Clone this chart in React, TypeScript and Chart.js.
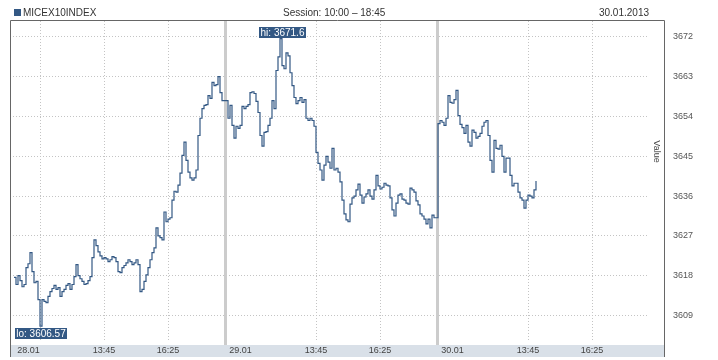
import React, { useEffect, useRef } from "react";
import { Chart, registerables } from "chart.js";

Chart.register(...registerables);

// ---------- texts ----------
const TITLE = "MICEX10INDEX";
const SESSION = "Session: 10:00 – 18:45";
const DATE_TEXT = "30.01.2013";
const Y_TITLE = "Value";

// ---------- data (5-minute closes, session 10:00 – 18:45) ----------
const STEP_MIN = 5;
const DAY_LEN = 530; // axis minutes reserved per trading day

const DAY1 = [
  3617.6, 3616.0, 3618.0, 3616.9, 3615.5, 3616.0, 3619.8, 3620.7, 3623.2, 3618.9,
  3616.4, 3616.7, 3612.6, 3606.57, 3612.6, 3612.2, 3611.9, 3613.3, 3614.4, 3615.1,
  3615.8, 3614.9, 3615.3, 3613.3, 3614.4, 3614.9, 3615.8, 3616.2, 3614.9, 3616.0,
  3617.8, 3620.5, 3618.0, 3617.3, 3616.7, 3616.0, 3616.2, 3616.9, 3617.8, 3622.1,
  3626.1, 3624.8, 3623.4, 3622.5, 3621.8, 3622.1, 3621.8, 3621.2, 3621.6, 3622.3,
  3622.1, 3621.2, 3618.9, 3618.7, 3619.8, 3620.3, 3620.9, 3621.6, 3621.2, 3620.5,
  3620.9, 3621.6, 3620.5, 3614.4, 3614.9, 3616.7, 3618.2, 3619.8, 3621.6, 3623.2,
  3624.3, 3628.8, 3627.0, 3626.6, 3626.1, 3632.4, 3630.2, 3630.8, 3631.1, 3635.1,
  3637.1, 3636.9, 3638.5, 3641.2, 3645.2, 3648.2, 3644.1, 3641.4, 3640.1, 3639.6,
  3640.1, 3641.9, 3649.7, 3653.6, 3655.8, 3656.5, 3656.7, 3658.7, 3658.1, 3661.7,
  3661.0, 3661.2, 3663.0, 3659.4, 3657.6,
];

const DAY2 = [
  3657.6, 3653.6, 3656.5, 3652.0, 3649.1, 3651.8, 3651.3, 3652.0, 3656.3, 3655.8,
  3656.3, 3656.7, 3659.4, 3659.6, 3659.2, 3657.4, 3654.9, 3649.7, 3647.3, 3650.4,
  3650.6, 3652.0, 3653.6, 3657.6, 3655.8, 3664.4, 3667.5, 3671.6, 3665.5, 3664.8,
  3668.4, 3667.7, 3663.9, 3661.0, 3658.3, 3656.9, 3657.6, 3658.3, 3657.2, 3657.8,
  3653.6, 3653.1, 3653.6, 3653.1, 3651.8, 3645.9, 3643.4, 3641.9, 3639.6, 3643.0,
  3645.0, 3643.7, 3642.3, 3646.8, 3641.9, 3642.3, 3641.4, 3639.2, 3635.1, 3632.0,
  3630.6, 3630.2, 3634.2, 3635.6, 3636.0, 3637.4, 3638.7, 3636.2, 3634.4, 3635.8,
  3636.5, 3637.4, 3636.0, 3635.3, 3637.4, 3640.7, 3638.3, 3637.6, 3638.0, 3638.9,
  3638.5, 3638.3, 3635.6, 3632.9, 3631.5, 3634.4, 3636.2, 3636.5, 3635.3, 3635.1,
  3634.4, 3634.2, 3637.8, 3637.4, 3636.9, 3634.9, 3634.0, 3632.0, 3631.5, 3630.8,
  3629.7, 3630.8, 3628.8, 3631.7, 3631.1,
];

const DAY3 = [
  3652.4, 3653.1, 3652.7, 3652.0, 3653.6, 3658.7, 3657.2, 3657.0, 3657.8, 3659.9,
  3654.2, 3652.2, 3651.5, 3650.2, 3652.0, 3648.2, 3647.3, 3650.9, 3650.4, 3649.1,
  3649.5, 3650.2, 3651.8, 3652.7, 3653.1, 3649.7, 3644.1, 3641.4, 3648.6, 3646.8,
  3646.6, 3647.5, 3645.0, 3641.4, 3644.6, 3644.6, 3640.7, 3638.3, 3638.9, 3638.9,
  3636.9, 3635.6, 3635.1, 3633.3, 3635.1, 3636.2, 3636.0, 3635.6, 3637.4, 3639.4,
];

const DAYS = [DAY1, DAY2, DAY3];

// ---------- axes ----------
const Y_TICKS = [3609, 3618, 3627, 3636, 3645, 3654, 3663, 3672];
const Y_MIN = 3603.0;
const Y_MAX = 3675.6;
const X_MIN = -2.5;
const X_MAX = 1587.5;

const X_TICK_DAY = [0, 0, 0, 0, 1, 1, 1, 2, 2, 2];
const X_TICK_MIN = [36, 65, 225, 385, 36, 225, 385, 36, 225, 385];
const X_TICK_LABELS = ["28.01", "", "13:45", "16:25", "29.01", "13:45", "16:25", "30.01", "13:45", "16:25"];

const FONT = "'Liberation Sans', Arial, sans-serif";
const LINE_COLOR = "#335884";
const GRID_COLOR = "#c4c4c4";

function App() {
  const ref = useRef<HTMLCanvasElement | null>(null);

  useEffect(() => {
    const canvas = ref.current;
    if (!canvas) return;

    const points: { x: number; y: number }[] = [];
    DAYS.forEach((vals, d) =>
      vals.forEach((v, i) => points.push({ x: d * DAY_LEN + i * STEP_MIN, y: v }))
    );
    const xTickValues = X_TICK_MIN.map((m, i) => X_TICK_DAY[i] * DAY_LEN + m);

    const decor = {
      id: "decor",
      beforeDraw(chart: any) {
        const ctx = chart.ctx;
        ctx.save();
        ctx.fillStyle = "#ffffff";
        ctx.fillRect(0, 0, chart.width, chart.height);
        ctx.fillStyle = "#d9e0e8";
        ctx.fillRect(11, 345, 653, 12);
        ctx.restore();
      },
      beforeDatasetsDraw(chart: any) {
        const { ctx, chartArea: a } = chart;
        const xs = chart.scales.x;
        ctx.save();
        ctx.fillStyle = "#cccccc";
        for (let d = 1; d < DAYS.length; d++) {
          const px = xs.getPixelForValue(d * DAY_LEN - 2.5);
          ctx.fillRect(Math.round(px) - 1, a.top, 3, a.bottom - a.top + 3);
        }
        ctx.restore();
      },
      afterDatasetsDraw(chart: any) {
        const { ctx } = chart;
        const xs = chart.scales.x;
        const ys = chart.scales.y;
        let hi = points[0];
        let lo = points[0];
        points.forEach((p) => {
          if (p.y > hi.y) hi = p;
          if (p.y < lo.y) lo = p;
        });
        ctx.save();
        ctx.font = `10px ${FONT}`;
        ctx.textBaseline = "alphabetic";
        ctx.textAlign = "center";
        const drawBox = (text: string, cx: number, top: number) => {
          const w = Math.round(ctx.measureText(text).width) + 3;
          const left = Math.round(cx - w / 2);
          ctx.fillStyle = LINE_COLOR;
          ctx.fillRect(left, top, w, 11);
          ctx.fillStyle = "#ffffff";
          ctx.fillText(text, left + w / 2, top + 9);
        };
        const hx = xs.getPixelForValue(hi.x);
        const hy = ys.getPixelForValue(hi.y);
        drawBox(`hi: ${hi.y}`, hx + 2, Math.round(hy) - 12);
        const lx = xs.getPixelForValue(lo.x);
        const ly = ys.getPixelForValue(lo.y);
        drawBox(`lo: ${lo.y}`, lx + 1, Math.round(ly) + 2);
        ctx.restore();
      },
      afterDraw(chart: any) {
        const { ctx } = chart;
        ctx.save();
        // frame
        ctx.strokeStyle = "#666666";
        ctx.lineWidth = 1;
        ctx.beginPath();
        ctx.moveTo(10.5, 357);
        ctx.lineTo(10.5, 20.5);
        ctx.lineTo(664.5, 20.5);
        ctx.lineTo(664.5, 357);
        ctx.stroke();
        // header
        ctx.fillStyle = LINE_COLOR;
        ctx.fillRect(14, 9, 7, 7);
        ctx.fillStyle = "#333333";
        ctx.font = `10px ${FONT}`;
        ctx.textBaseline = "alphabetic";
        ctx.textAlign = "left";
        ctx.fillText(TITLE, 23, 16);
        ctx.fillText(SESSION, 283, 16);
        ctx.textAlign = "right";
        ctx.fillText(DATE_TEXT, 649, 16);
        // axis title
        ctx.translate(656.5, 151.5);
        ctx.rotate(Math.PI / 2);
        ctx.textAlign = "center";
        ctx.textBaseline = "middle";
        ctx.fillStyle = "#444444";
        ctx.font = `9px ${FONT}`;
        ctx.fillText(Y_TITLE, 0, 0);
        ctx.restore();
      },
    };

    const chart = new Chart(canvas, {
      type: "line",
      data: {
        datasets: [
          {
            data: points,
            borderColor: LINE_COLOR,
            borderWidth: 1.2,
            pointRadius: 0,
            stepped: true,
            fill: false,
          },
        ],
      },
      options: {
        responsive: false,
        animation: false,
        parsing: false as any,
        layout: { padding: { left: 13, top: 21, right: 0, bottom: 0 } },
        plugins: {
          legend: { display: false },
          tooltip: { enabled: false },
          title: { display: false },
        },
        scales: {
          x: {
            type: "linear",
            min: X_MIN,
            max: X_MAX,
            afterFit: (s: any) => {
              s.height = 18;
              s.paddingLeft = 0;
              s.paddingRight = 0;
              s.paddingTop = 0;
              s.paddingBottom = 0;
            },
            afterBuildTicks: (s: any) => {
              s.ticks = xTickValues.map((v) => ({ value: v }));
            },
            grid: {
              drawTicks: false,
              lineWidth: 1,
              color: (c: any) =>
                X_TICK_LABELS[c.index] && X_TICK_LABELS[c.index].includes(".")
                  ? "rgba(0,0,0,0)"
                  : GRID_COLOR,
            },
            border: { display: false, dash: [1, 2] },
            ticks: {
              autoSkip: false,
              maxRotation: 0,
              padding: 3,
              color: "#444444",
              font: { family: FONT, size: 9 },
              callback: (_v: any, i: number) => X_TICK_LABELS[i],
            },
          },
          y: {
            type: "linear",
            position: "right",
            min: Y_MIN,
            max: Y_MAX,
            afterFit: (s: any) => {
              s.width = 69;
              s.paddingLeft = 0;
              s.paddingRight = 0;
              s.paddingTop = 0;
              s.paddingBottom = 0;
            },
            afterBuildTicks: (s: any) => {
              s.ticks = Y_TICKS.map((v) => ({ value: v }));
            },
            grid: { drawTicks: false, color: GRID_COLOR, lineWidth: 1 },
            border: { display: false, dash: [1, 2] },
            ticks: {
              padding: 24,
              color: "#555555",
              font: { family: FONT, size: 9 },
              callback: (v: any) => String(v),
            },
          },
        },
      },
      plugins: [decor],
    });

    return () => chart.destroy();
  }, []);

  return (
    <div style={{ position: "fixed", left: 0, top: 0, width: 718, height: 360, background: "#fff" }}>
      <canvas ref={ref} width={718} height={360} style={{ width: 718, height: 360, display: "block" }} />
    </div>
  );
}

export default App;
